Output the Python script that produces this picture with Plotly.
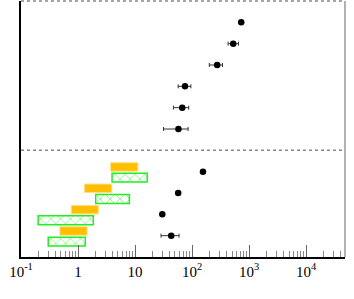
import plotly.graph_objects as go

# --- data ---
upper_rows = [1, 2, 3, 4, 5, 6]
upper_vals = [725, 525, 275, 75, 67, 57.5]
upper_err_lo = [12, 98, 75, 18, 20, 26]
upper_err_hi = [12, 125, 65, 20, 20, 27.5]

lower_rows = [8, 9, 10, 11]
lower_vals = [155, 57, 30, 43]
lower_err_lo = [3, 3, 2, 14.5]
lower_err_hi = [3, 3, 2, 16]

orange_rows = [7.78, 8.78, 9.78, 10.78]
orange_lo = [3.73, 1.29, 0.76, 0.48]
orange_hi = [11.2, 3.9, 2.27, 1.44]

green_rows = [8.28, 9.28, 10.28, 11.28]
green_lo = [3.95, 2.04, 0.20, 0.30]
green_hi = [16.3, 7.94, 1.85, 1.34]

tick_vals = [0.1, 1, 10, 100, 1000, 10000]
tick_text = ["10<sup>-1</sup>", "1", "10", "10<sup>2</sup>", "10<sup>3</sup>", "10<sup>4</sup>"]

separator_row = 7

fig = go.Figure()

fig.add_trace(go.Bar(
    orientation="h", y=orange_rows, base=orange_lo,
    x=[h - l for l, h in zip(orange_lo, orange_hi)], width=0.4,
    marker=dict(color="#FFBF00", line=dict(color="#FFE08A", width=1)),
    showlegend=False, hoverinfo="skip",
))
fig.add_trace(go.Bar(
    orientation="h", y=green_rows, base=green_lo,
    x=[h - l for l, h in zip(green_lo, green_hi)], width=0.42,
    marker=dict(color="white", line=dict(color="#22EE22", width=1.5),
                pattern=dict(shape="x", fgcolor="#22EE22", bgcolor="white", size=7, solidity=0.25)),
    showlegend=False, hoverinfo="skip",
))

for rows, vals, elo, ehi in [(upper_rows, upper_vals, upper_err_lo, upper_err_hi),
                             (lower_rows, lower_vals, lower_err_lo, lower_err_hi)]:
    fig.add_trace(go.Scatter(
        x=vals, y=rows, mode="markers",
        marker=dict(color="black", size=6.5),
        error_x=dict(type="data", array=ehi, arrayminus=elo, color="#333", thickness=1, width=2),
        showlegend=False,
    ))

# dotted lines: top and separator
fig.add_shape(type="line", xref="paper", yref="y", x0=0, x1=1, y0=separator_row, y1=separator_row,
              line=dict(color="#888", width=1.5, dash="dot"))
fig.add_shape(type="line", xref="paper", yref="paper", x0=0, x1=1, y0=1, y1=1,
              line=dict(color="#888", width=1.5, dash="dot"))
fig.add_shape(type="line", xref="paper", yref="paper", x0=1, x1=1, y0=0, y1=1,
              line=dict(color="#999", width=1.5))

fig.update_layout(
    width=354, height=299,
    margin=dict(l=21, r=9, t=1, b=42, autoexpand=False),
    paper_bgcolor="white", plot_bgcolor="white",
    barmode="overlay",
    xaxis=dict(
        type="log", range=[-1, 4.68], automargin=False,
        showline=True, linecolor="black", linewidth=1.5,
        showgrid=False, zeroline=False,
        ticks="inside", ticklen=12, tickcolor="#666", tickwidth=1,
        tickvals=tick_vals, ticktext=tick_text,
        tickfont=dict(family="Liberation Serif", size=15, color="black"),
        minor=dict(ticks="inside", ticklen=6, tickcolor="#888", tickwidth=1, dtick="D1", showgrid=False),
    ),
    yaxis=dict(
        range=[12, 0], automargin=False, showline=True, linecolor="black", linewidth=1.5,
        showgrid=False, zeroline=False, showticklabels=False, ticks="",
    ),
)

fig.write_html("out.html", config={"displayModeBar": False},
               post_script="document.body.style.margin='0';")
